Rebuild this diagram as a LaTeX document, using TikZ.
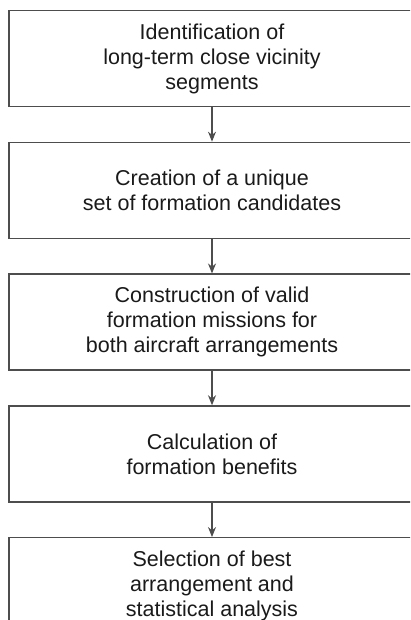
\documentclass[tikz,border=0pt]{standalone}
\usepackage{fontspec}
\setmainfont{Liberation Sans}
\usepackage{tikz}
\usetikzlibrary{positioning,arrows.meta}
\definecolor{edge}{HTML}{4D4D4D}
\definecolor{ink}{HTML}{1A1A1A}

\begin{document}
\begin{tikzpicture}[x=1pt,y=1pt,node distance=34.5pt,
  every node/.style={font=\fontsize{21.5}{25}\selectfont,text=ink},
  stage/.style={draw=edge,line width=1.3pt,minimum width=406pt,minimum height=96pt,inner sep=0pt,align=center},
  flow/.style={edge,line width=1.1pt,-{Stealth[length=10pt,width=8pt]}}]
  \useasboundingbox (0,0) rectangle (410,-620);
  \clip (0,0) rectangle (410,-620);
  \node[stage] (ident) at (212,-58.5) {Identification of\\long-term close vicinity\\segments};
  \node[stage,below=of ident] (cand) {Creation of a unique\\set of formation candidates};
  \node[stage,below=of cand] (miss) {Construction of valid\\formation missions for\\both aircraft arrangements};
  \node[stage,below=of miss] (bene) {Calculation of\\formation benefits};
  \node[stage,below=of bene] (sel) {Selection of best\\arrangement and\\statistical analysis};
  \foreach \a/\b in {ident/cand,cand/miss,miss/bene,bene/sel}{\draw[flow] (\a) -- (\b);}
\end{tikzpicture}
\end{document}
